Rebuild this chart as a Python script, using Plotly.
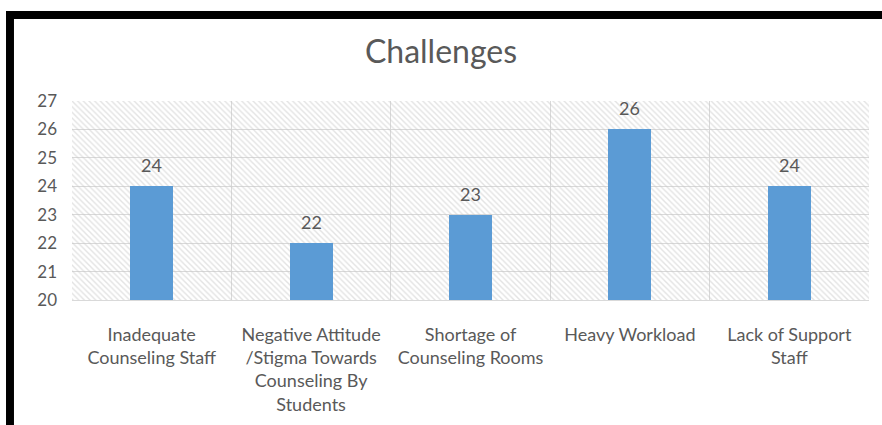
import plotly.graph_objects as go

# Survey results: number of respondents citing each challenge
categories = [
    "Inadequate<br>Counseling Staff",
    "Negative Attitude<br>/Stigma Towards<br>Counseling By<br>Students",
    "Shortage of<br>Counseling Rooms",
    "Heavy Workload",
    "Lack of Support<br>Staff",
]
values = [24, 22, 23, 26, 24]
y_ticks = [20, 21, 22, 23, 24, 25, 26, 27]

Y_MIN, Y_MAX = y_ticks[0], y_ticks[-1]
TEXT = "#595959"
FONT = "Lato"

fig = go.Figure()

# Hatched plot background: one full-width, full-height bar per category slot
fig.add_trace(go.Bar(
    x=categories,
    y=[Y_MAX - Y_MIN] * len(categories),
    base=Y_MIN,
    width=1,
    marker=dict(
        color="rgba(0,0,0,0)",
        line=dict(width=0),
        pattern=dict(shape="\\", fgcolor="#c8c8c8", bgcolor="rgba(0,0,0,0)",
                     size=4, solidity=0.35, fillmode="overlay"),
    ),
    hoverinfo="skip",
    showlegend=False,
))

# Data bars
fig.add_trace(go.Bar(
    x=categories,
    y=[v - Y_MIN for v in values],
    base=Y_MIN,
    width=0.27,
    marker=dict(color="#5b9bd5", line=dict(width=0)),
    showlegend=False,
))

# Value labels above bars
for c, v in zip(categories, values):
    fig.add_annotation(x=c, y=v, text=str(v), showarrow=False,
                       yanchor="bottom", yshift=8,
                       font=dict(family=FONT, size=18, color=TEXT))

# Black frame (top and left edges)
fig.add_shape(type="rect", xref="paper", yref="paper",
              x0=-0.0828, x1=1.05, y0=1.412, y1=1.452,
              fillcolor="black", line=dict(width=0), layer="above")
fig.add_shape(type="rect", xref="paper", yref="paper",
              x0=-0.0828, x1=-0.0728, y0=-0.7, y1=1.452,
              fillcolor="black", line=dict(width=0), layer="above")

fig.update_layout(
    width=882, height=425,
    margin=dict(l=72, r=13, t=101, b=125, autoexpand=False),
    paper_bgcolor="white",
    plot_bgcolor="white",
    barmode="overlay",
    bargap=0,
    title=dict(text="Challenges", x=0.5, xref="container", xanchor="center",
               y=1 - 52 / 425, yref="container", yanchor="middle",
               font=dict(family=FONT, size=32, color=TEXT)),
    font=dict(family=FONT, color=TEXT),
)

fig.update_xaxes(
    type="category",
    range=[-0.5, len(categories) - 0.5],
    tickson="boundaries",
    showgrid=True, gridcolor="#d9d9d9", gridwidth=1,
    showline=True, linecolor="#d9d9d9", linewidth=1,
    ticks="", ticklabelstandoff=18, automargin=False,
    tickfont=dict(family=FONT, size=18, color=TEXT),
)
fig.update_yaxes(
    range=[Y_MIN, Y_MAX],
    tickvals=y_ticks,
    showgrid=True, gridcolor="#d9d9d9", gridwidth=1,
    zeroline=False, showline=False,
    ticks="", ticklabelstandoff=14, automargin=False,
    tickfont=dict(family=FONT, size=17, color=TEXT),
)

fig.write_html("out.html")
